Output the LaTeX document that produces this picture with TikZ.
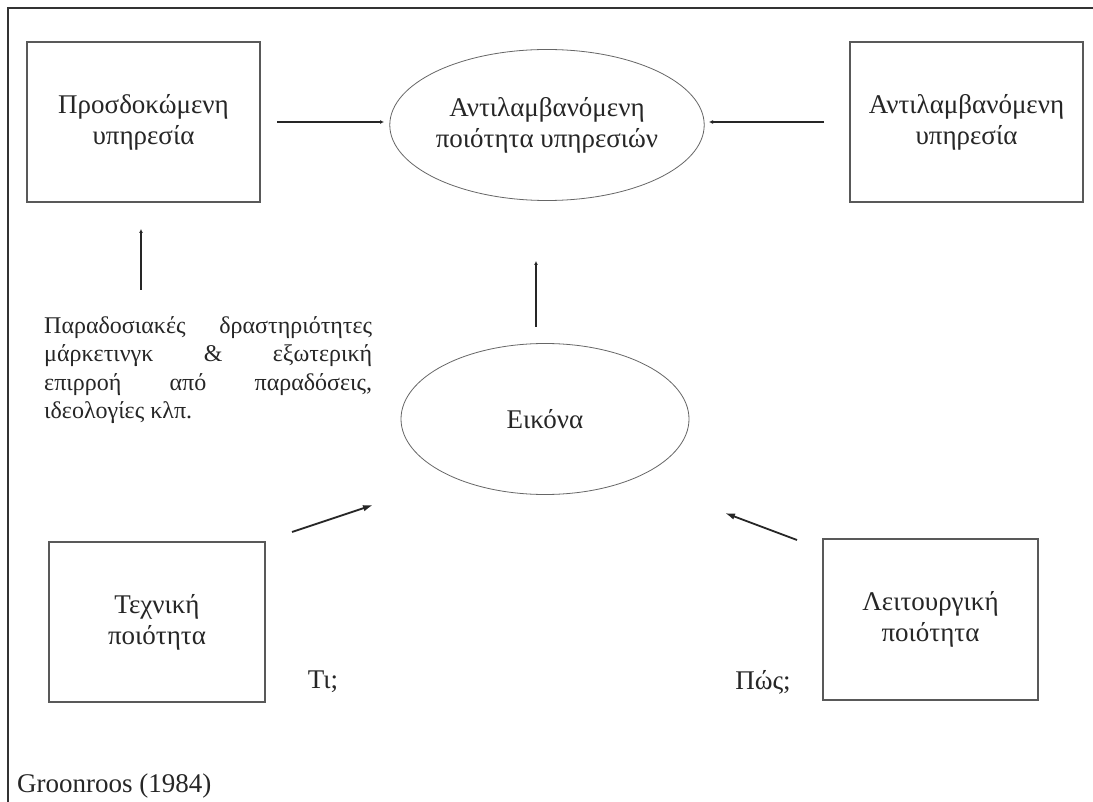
\documentclass[tikz,border=0pt]{standalone}
\usepackage{fontspec}
\setmainfont{Liberation Serif}
\usetikzlibrary{shapes.geometric,arrows.meta}
\begin{document}
\begin{tikzpicture}[x=1pt,y=-1pt,
  frameline/.style={draw=black!80,line width=2pt},
  box/.style={draw=black!65,line width=1.1pt,minimum width=233pt,minimum height=160pt,inner sep=0pt,align=center,text=black!85,font=\fontsize{27}{31}\selectfont},
  oval/.style={ellipse,draw=black!60,line width=0.8pt,minimum width=288pt,minimum height=151pt,inner sep=0pt,align=center,text=black!85,font=\fontsize{27}{31}\selectfont},
  lbl/.style={inner sep=0pt,text=black!85,font=\fontsize{27}{31}\selectfont},
  conn/.style={draw=black!85,line width=1.8pt,-{Latex[length=4pt,width=4pt]}},
  diag/.style={draw=black!85,line width=1.8pt,-{Latex[length=10pt,width=6.5pt]}}]
\useasboundingbox (0,0) rectangle (1093,802);
\fill[white] (0,0) rectangle (1093,802);
\draw[frameline] (8,830) -- (8,8) -- (1120,8);
% nodes
\node[box] (b1) at (143.5,122) {Προσδοκώμενη\\υπηρεσία};
\node[box] (b2) at (966.5,122) {Αντιλαμβανόμενη\\υπηρεσία};
\node[oval] (e1) at (547,125) {Αντιλαμβανόμενη\\ποιότητα υπηρεσιών};
\node[oval] (e2) at (545,419) {Εικόνα};
\node[box,minimum width=216pt] (b3) at (157,622) {Τεχνική\\ποιότητα};
\node[box,minimum width=215pt,minimum height=161pt] (b4) at (930.5,619.5) {Λειτουργική\\ποιότητα};
\node[inner sep=0pt,anchor=north west,text width=328pt,align=justify,text=black!85,
  font=\fontsize{24}{28.5}\selectfont] (par) at (44,316)
  {\tolerance=10000 Παραδοσιακές δραστηριότητες\linebreak μάρκετινγκ \& εξωτερική\linebreak επιρροή από παραδόσεις,\linebreak ιδεολογίες κλπ.};
\node[lbl] (ti) at (323,682) {Τι;};
\node[lbl] (pos) at (763,682) {Πώς;};
\node[lbl,anchor=west] (src) at (17,786) {Groonroos (1984)};
% connectors
\coordinate (a1s) at (277,122);
\coordinate (a1e) at (384,122);
\coordinate (a2s) at (824,122);
\coordinate (a2e) at (709,122);
\coordinate (a3s) at (141,290);
\coordinate (a3e) at (141,229);
\coordinate (a4s) at (536,327);
\coordinate (a4e) at (536,261);
\coordinate (a5s) at (292,532);
\coordinate (a5e) at (373,505);
\coordinate (a6s) at (797,540);
\coordinate (a6e) at (725,513);
\draw[conn] (a1s) -- (a1e);
\draw[conn] (a2s) -- (a2e);
\draw[conn] (a3s) -- (a3e);
\draw[conn] (a4s) -- (a4e);
\draw[diag] (a5s) -- (a5e);
\draw[diag] (a6s) -- (a6e);
\end{tikzpicture}
\end{document}
